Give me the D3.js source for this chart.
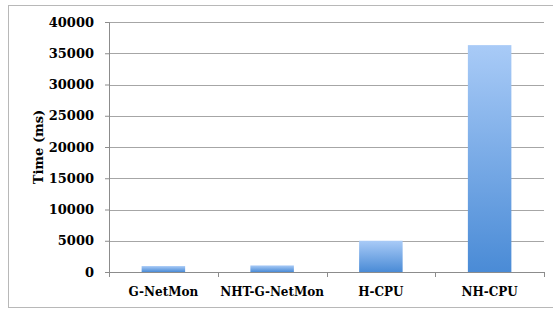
<!DOCTYPE html>
<html>
<head>
<meta charset="utf-8">
<script src="https://cdn.jsdelivr.net/npm/d3@7"></script>
<style>
  body { margin: 0; background: #fff; }
  text { font-family: "DejaVu Serif", serif; font-weight: bold; }
</style>
</head>
<body>
<div id="chart"></div>
<script>
// chart data
const categories = ["G-NetMon", "NHT-G-NetMon", "H-CPU", "NH-CPU"];
const times = [950, 1050, 5000, 36300];
const yTicks = [0, 5000, 10000, 15000, 20000, 25000, 30000, 35000, 40000];

const W = 553, H = 309;
const margin = { top: 22, right: 9, bottom: 37, left: 109 };
const width = W - margin.left - margin.right;
const height = H - margin.top - margin.bottom;

const svg = d3.select("#chart").append("svg")
  .attr("width", W)
  .attr("height", H);

// outer frame (right edge falls outside the picture)
svg.append("rect")
  .attr("x", 8.5).attr("y", 5.5)
  .attr("width", 560).attr("height", 302)
  .attr("fill", "none")
  .attr("stroke", "#b8b8b8");

// bar gradient
const grad = svg.append("defs").append("linearGradient")
  .attr("id", "barGrad")
  .attr("x1", 0).attr("y1", 0).attr("x2", 0).attr("y2", 1);
grad.append("stop").attr("offset", "0%").attr("stop-color", "#a9cbf7");
grad.append("stop").attr("offset", "100%").attr("stop-color", "#4a8bd6");

const g = svg.append("g")
  .attr("transform", `translate(${margin.left},${margin.top})`);

const x = d3.scaleBand().domain(categories).range([0, width]).padding(0);
const y = d3.scaleLinear().domain([0, 40000]).range([height, 0]);

// gridlines
g.selectAll(".grid")
  .data(yTicks.slice(1))
  .join("line")
  .attr("class", "grid")
  .attr("x1", 0).attr("x2", width)
  .attr("y1", d => Math.round(y(d)) + 0.5)
  .attr("y2", d => Math.round(y(d)) + 0.5)
  .attr("stroke", "#a6a6a6");

// bars
g.selectAll(".bar")
  .data(categories)
  .join("rect")
  .attr("class", "bar")
  .attr("x", d => x(d) + x.bandwidth() * 0.3)
  .attr("width", x.bandwidth() * 0.4)
  .attr("y", (d, i) => y(times[i]))
  .attr("height", (d, i) => height - y(times[i]))
  .attr("fill", "url(#barGrad)");

// y axis
g.append("g")
  .call(d3.axisLeft(y).tickValues(yTicks).tickFormat(d3.format("d"))
    .tickSize(4).tickPadding(11))
  .call(a => a.selectAll("line, path").attr("stroke", "#8c8c8c"))
  .call(a => a.selectAll("text")
    .style("font-size", "13px")
    .attr("fill", "#000"));

// x axis line and boundary ticks
const bounds = categories.map(d => x(d)).concat([width]);
g.append("line")
  .attr("x1", 0).attr("x2", width)
  .attr("y1", height + 0.5).attr("y2", height + 0.5)
  .attr("stroke", "#8c8c8c");
g.selectAll(".xtick")
  .data(bounds)
  .join("line")
  .attr("class", "xtick")
  .attr("x1", d => Math.round(d) + 0.5).attr("x2", d => Math.round(d) + 0.5)
  .attr("y1", height).attr("y2", height + 5)
  .attr("stroke", "#8c8c8c");

// x labels
g.append("g")
  .attr("transform", `translate(0,${height})`)
  .call(d3.axisBottom(x).tickSize(0).tickPadding(15))
  .call(a => a.select(".domain").remove())
  .call(a => a.selectAll("text")
    .style("font-size", "12px")
    .attr("fill", "#000"));

// y title
svg.append("text")
  .attr("transform", `translate(43,${margin.top + height / 2}) rotate(-90)`)
  .attr("text-anchor", "middle")
  .style("font-size", "13px")
  .text("Time (ms)");
</script>
</body>
</html>
